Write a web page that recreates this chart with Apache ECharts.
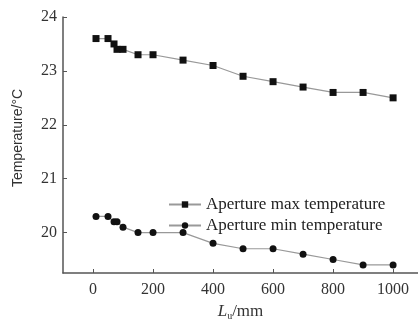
<!DOCTYPE html>
<html>
<head>
<meta charset="utf-8">
<script src="https://cdn.jsdelivr.net/npm/echarts@6/dist/echarts.min.js"></script>
<style>
html, body { margin: 0; padding: 0; background: #fff; }
#chart { width: 418px; height: 326px; }
</style>
</head>
<body>
<div id="chart"></div>
<script>
// 位置 Lu (mm)
const lengths = [10, 50, 70, 80, 100, 150, 200, 300, 400, 500, 600, 700, 800, 900, 1000];
// 孔径最高温度
const maxTemp = [23.6, 23.6, 23.5, 23.4, 23.4, 23.3, 23.3, 23.2, 23.1, 22.9, 22.8, 22.7, 22.6, 22.6, 22.5];
// 孔径最低温度
const minTemp = [20.3, 20.3, 20.2, 20.2, 20.1, 20.0, 20.0, 20.0, 19.8, 19.7, 19.7, 19.6, 19.5, 19.4, 19.4];
const xTicks = [0, 200, 400, 600, 800, 1000];
const yTicks = [20, 21, 22, 23, 24];
const seriesNames = ['Aperture max temperature', 'Aperture min temperature'];

const serif = '"Liberation Serif", "DejaVu Serif", serif';
const axisColor = '#555';

const myChart = echarts.init(document.getElementById('chart'));

function pairs(ys) {
    return lengths.map((x, i) => [x, ys[i]]);
}

const option = {
    backgroundColor: '#fff',
    animation: false,
    grid: { left: 63, right: 0, top: 17, bottom: 42 },
    legend: {
        orient: 'vertical',
        left: 163,
        top: 191,
        itemWidth: 32,
        itemHeight: 8,
        itemGap: 4,
        data: seriesNames,
        textStyle: { fontFamily: serif, fontSize: 17, color: '#222' }
    },
    xAxis: {
        type: 'value',
        min: -100,
        max: 1083,
        splitLine: { show: false },
        axisLine: { onZero: false, lineStyle: { color: axisColor, width: 1.5 } },
        axisTick: { inside: true, length: 4, customValues: xTicks, lineStyle: { color: axisColor } },
        axisLabel: {
            customValues: xTicks,
            formatter: v => String(v),
            fontFamily: serif, fontSize: 16, color: '#333', margin: 9
        },
        name: '{i|L}{s|u}{n|/mm}',
        nameLocation: 'middle',
        nameGap: 29,
        nameTextStyle: {
            rich: {
                i: { fontFamily: serif, fontStyle: 'italic', fontSize: 17, color: '#333' },
                s: { fontFamily: serif, fontSize: 10, color: '#333', padding: [9, 0, 0, 0] },
                n: { fontFamily: serif, fontSize: 17, color: '#333' }
            }
        }
    },
    yAxis: {
        type: 'value',
        min: 19.25,
        max: 24,
        splitLine: { show: false },
        axisLine: { onZero: false, lineStyle: { color: axisColor, width: 1.5 } },
        axisTick: { inside: true, length: 4, customValues: yTicks, lineStyle: { color: axisColor } },
        axisLabel: { customValues: yTicks, fontFamily: serif, fontSize: 16, color: '#333', margin: 6 },
        name: 'Temperature/°C',
        nameLocation: 'middle',
        nameGap: 38,
        nameTextStyle: { fontFamily: '"Liberation Sans", Arial, sans-serif', fontSize: 14, color: '#333', padding: [0, 0, 0, 14] }
    },
    series: [
        {
            name: seriesNames[0],
            type: 'line',
            data: pairs(maxTemp),
            symbol: 'rect',
            symbolSize: 7,
            lineStyle: { color: '#999', width: 1.2 },
            itemStyle: { color: '#111' }
        },
        {
            name: seriesNames[1],
            type: 'line',
            data: pairs(minTemp),
            symbol: 'circle',
            symbolSize: 7,
            lineStyle: { color: '#999', width: 1.2 },
            itemStyle: { color: '#111' }
        }
    ]
};
myChart.setOption(option);
</script>
</body>
</html>
